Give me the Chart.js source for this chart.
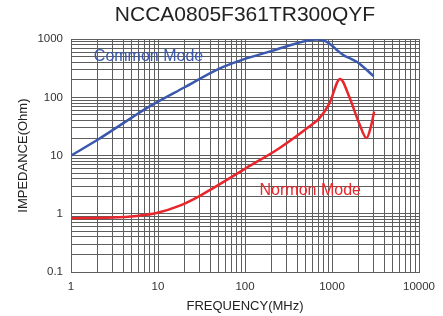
<!DOCTYPE html>
<html>
<head>
<meta charset="utf-8">
<script src="https://cdn.jsdelivr.net/npm/chart.js@4.4.0/dist/chart.umd.min.js"></script>
<style>
	html, body { margin: 0; padding: 0; background: #fff; }
	#wrap { width: 443px; height: 316px; }
</style>
</head>
<body>
<div id="wrap"><canvas id="grafico" width="443" height="316"></canvas></div>
<script>
// Eixos (décadas com rótulo)
const freqTicks = [1, 10, 100, 1000, 10000];
const impTicks = [0.1, 1, 10, 100, 1000];

// Common Mode (MHz / Ohm)
const commonFreq = [1, 2, 5, 8, 20, 50, 100, 200, 369, 655, 815, 972, 1158, 1381, 1577, 1964, 3000];
const commonZ = [10, 18.5, 45, 70, 148, 310, 460, 623, 829, 990, 944, 806, 636, 522, 476, 402, 232];

// Normon Mode (MHz / Ohm)
const normalFreq = [1, 3, 5.7, 9.6, 17.8, 30, 43, 103, 248, 548, 718, 934, 1240, 1577, 2050, 2495, 2800, 3050];
const normalZ = [0.84, 0.86, 0.92, 1.03, 1.38, 2.02, 2.76, 6.1, 13.4, 31.5, 44, 79, 208, 103, 36, 20, 31.5, 57];

// Textos dentro do gráfico
const rotulos = [
	{ texto: "Common Mode", x: 1.83, y: 496, cor: "#3a58ad" },
	{ texto: "Normon Mode", x: 147, y: 2.51, cor: "#e8262b" }
];

const FONTE = '"Liberation Sans", Arial, sans-serif';
Chart.defaults.font.family = FONTE;

// Linhas de grade logarítmicas 1..9 por década
function gradeLog(decadas) {
	const vals = [];
	for (let i = 0; i < decadas.length - 1; i++) {
		for (let k = 1; k < 10; k++) vals.push(+(decadas[i] * k).toPrecision(3));
	}
	vals.push(decadas[decadas.length - 1]);
	return vals;
}

function rotuloDecada(lista) {
	return function (v) {
		const i = lista.indexOf(v);
		return i >= 0 ? String(lista[i]) : "";
	};
}

const rotulosPlugin = {
	id: "rotulos",
	afterDatasetsDraw(chart) {
		const { ctx, scales } = chart;
		ctx.save();
		ctx.font = "16px " + FONTE;
		ctx.textBaseline = "middle";
		ctx.textAlign = "left";
		rotulos.forEach((r) => {
			ctx.fillStyle = r.cor;
			ctx.fillText(r.texto, scales.x.getPixelForValue(r.x), scales.y.getPixelForValue(r.y));
		});
		ctx.restore();
	}
};

const corGrade = "#5e5e5e";

new Chart(document.getElementById("grafico"), {
	type: "scatter",
	data: {
		datasets: [
			{
				label: "Common Mode",
				data: commonFreq.map((f, i) => ({ x: f, y: commonZ[i] })),
				borderColor: "#3a58ad",
				borderWidth: 2.5,
				showLine: true,
				pointRadius: 0,
				cubicInterpolationMode: "monotone"
			},
			{
				label: "Normon Mode",
				data: normalFreq.map((f, i) => ({ x: f, y: normalZ[i] })),
				borderColor: "#e8262b",
				borderWidth: 2.5,
				showLine: true,
				pointRadius: 0,
				cubicInterpolationMode: "monotone"
			}
		]
	},
	options: {
		responsive: false,
		animation: false,
		devicePixelRatio: 1,
		layout: { padding: { left: 0, right: 23, top: 0, bottom: 0 } },
		plugins: {
			legend: { display: false },
			tooltip: { enabled: false },
			title: {
				display: true,
				text: "NCCA0805F361TR300QYF",
				fullSize: false,
				color: "#222",
				font: { size: 21, weight: "normal" },
				padding: { top: 3, bottom: 11 }
			}
		},
		scales: {
			x: {
				type: "logarithmic",
				min: 1,
				max: 10000,
				afterBuildTicks: (s) => { s.ticks = gradeLog(freqTicks).map((v) => ({ value: v })); },
				afterFit: (s) => { s.height = 44; },
				grid: { color: corGrade, lineWidth: 1, drawTicks: false },
				border: { color: corGrade, width: 1 },
				ticks: {
					autoSkip: false,
					maxRotation: 0,
					padding: 8,
					color: "#333",
					font: { size: 11.5 },
					callback: rotuloDecada(freqTicks)
				},
				title: {
					display: true,
					text: "FREQUENCY(MHz)",
					color: "#222",
					font: { size: 13 },
					padding: { top: 0, bottom: 2 }
				}
			},
			y: {
				type: "logarithmic",
				min: 0.1,
				max: 1000,
				afterBuildTicks: (s) => { s.ticks = gradeLog(impTicks).map((v) => ({ value: v })); },
				afterFit: (s) => { s.width = 71; },
				grid: { color: corGrade, lineWidth: 1, drawTicks: false },
				border: { color: corGrade, width: 1 },
				ticks: {
					autoSkip: false,
					padding: 8,
					color: "#333",
					font: { size: 11.5 },
					callback: rotuloDecada(impTicks)
				},
				title: {
					display: true,
					text: "IMPEDANCE(Ohm)",
					color: "#222",
					font: { size: 13 },
					padding: { top: 16, bottom: 0 }
				}
			}
		}
	},
	plugins: [rotulosPlugin]
});
</script>
</body>
</html>
